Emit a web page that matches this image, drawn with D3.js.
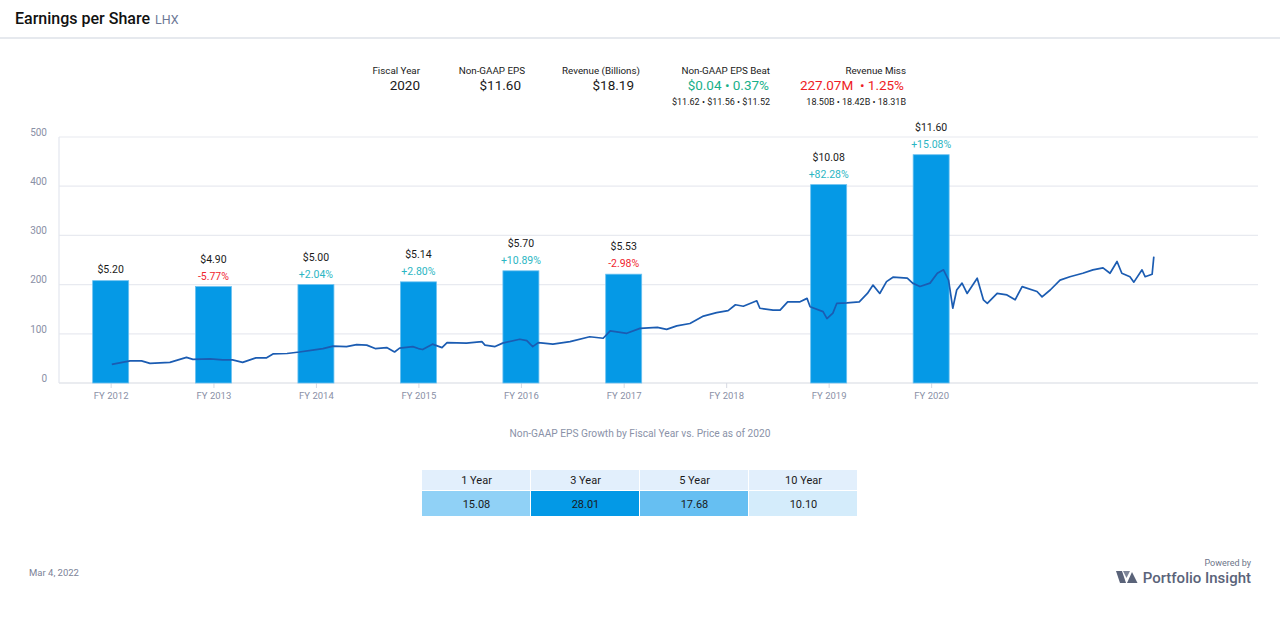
<!DOCTYPE html>
<html>
<head>
<meta charset="utf-8">
<script src="https://cdn.jsdelivr.net/npm/d3@7/dist/d3.min.js"></script>
<style>
  html, body { margin: 0; padding: 0; background: #fff; }
  svg { display: block; font-family: Roboto, "Noto Sans", sans-serif; }
</style>
</head>
<body>
<svg id="chart" width="1280" height="624"></svg>
<script>
// ---------- DATA ----------
const fiscalYears = ["FY 2012","FY 2013","FY 2014","FY 2015","FY 2016","FY 2017","FY 2018","FY 2019","FY 2020"];
const fiscalYearNums = [2012,2013,2014,2015,2016,2017,2018,2019,2020];
const epsValues = [5.20, 4.90, 5.00, 5.14, 5.70, 5.53, null, 10.08, 11.60];
const epsGrowth = [null, -5.77, 2.04, 2.80, 10.89, -2.98, null, 82.28, 15.08];
const yTickValues = [0, 100, 200, 300, 400, 500];

const priceDates = [
  "2012-01-05","2012-03-10","2012-04-20","2012-05-20","2012-07-30","2012-09-27","2012-10-20","2012-12-20",
  "2013-02-03","2013-03-10","2013-04-15","2013-06-01","2013-07-08","2013-08-01","2013-09-20","2013-11-03",
  "2013-12-20","2014-01-26","2014-03-03","2014-04-20","2014-05-26","2014-07-01","2014-07-31","2014-09-10",
  "2014-10-08","2014-10-26","2014-12-12","2015-01-01","2015-01-16","2015-02-20","2015-03-26","2015-04-13",
  "2015-06-21","2015-08-15","2015-08-26","2015-10-01","2015-10-28","2015-12-28","2016-01-22","2016-02-12",
  "2016-03-03","2016-04-24","2016-06-24","2016-09-02","2016-10-20","2016-11-14","2017-01-12","2017-02-28",
  "2017-05-01","2017-06-03","2017-07-09","2017-08-25","2017-10-12","2017-11-28","2018-01-08","2018-02-03",
  "2018-03-03","2018-04-20","2018-05-01","2018-06-17","2018-07-12","2018-08-08","2018-09-21","2018-10-16",
  "2018-10-27","2018-12-12","2018-12-26","2019-01-16","2019-01-30","2019-03-07","2019-04-20","2019-05-19",
  "2019-06-08","2019-07-02","2019-07-26","2019-08-18","2019-10-08","2019-10-27","2019-11-22","2019-12-28",
  "2020-01-23","2020-02-14","2020-03-03","2020-03-18","2020-04-01","2020-04-20","2020-05-08","2020-06-13",
  "2020-07-05","2020-07-19","2020-08-23","2020-09-27","2020-10-26","2020-11-20","2021-01-12","2021-01-30",
  "2021-02-28","2021-04-04","2021-05-09","2021-06-24","2021-07-30","2021-09-04","2021-09-29","2021-10-24",
  "2021-11-10","2021-12-09","2021-12-23","2022-01-21","2022-02-01","2022-02-26","2022-03-04"
];
const priceValues = [
  38, 45, 45, 40, 42, 52, 48, 49,
  47, 47, 42, 51, 51, 59, 60, 63,
  67, 70, 75, 74, 78, 77, 70, 72,
  63, 71, 74, 70, 68, 79, 72, 82,
  81, 84, 77, 74, 81, 89, 86, 74,
  82, 79, 84, 94, 91, 106, 101, 111,
  113, 109, 116, 121, 136, 143, 147, 159,
  156, 167, 152, 148, 148, 165, 165, 172,
  155, 145, 131, 142, 162, 163, 165, 182,
  199, 182, 206, 215, 213, 203, 196, 203,
  223, 230, 209, 152, 189, 203, 182, 213,
  169, 162, 182, 179, 169, 196, 186, 175,
  189, 209, 216, 223, 230, 234, 223, 247,
  223, 216, 205, 230, 216, 221, 257
];

const statLabels = ["Fiscal Year", "Non-GAAP EPS", "Revenue (Billions)", "Non-GAAP EPS Beat", "Revenue Miss"];
const statValues = ["2020", "$11.60", "$18.19", "$0.04 \u2022 0.37%", "227.07M  \u2022 1.25%"];
const statSubs = ["", "", "", "$11.62 \u2022 $11.56 \u2022 $11.52", "18.50B \u2022 18.42B \u2022 18.31B"];

const growthPeriods = ["1 Year", "3 Year", "5 Year", "10 Year"];
const growthValues = [15.08, 28.01, 17.68, 10.10];

// ---------- STYLE / LAYOUT ----------
const W = 1280, H = 624;
const plot = { left: 59, right: 1258, top: 137, bottom: 383 };
const labelRight = [420, 525, 640, 770, 906];
const valueRight = [420, 521, 634, 769, 904];
const statColors = ["#1a1a1a", "#1a1a1a", "#1a1a1a", "#19b08a", "#ee1c25"];
const cellFills = ["#90d1f6", "#0399e6", "#66bff2", "#d4ecfb"];

const svg = d3.select("#chart");
svg.append("rect").attr("width", W).attr("height", H).attr("fill", "#fff");

// Title
const title = svg.append("text").attr("x", 15).attr("y", 24)
  .attr("font-size", 16).attr("font-weight", 500).attr("fill", "#111");
title.append("tspan").text("Earnings per Share");
title.append("tspan").attr("dx", 5).attr("font-size", 12.5).attr("font-weight", 400).attr("fill", "#6d7896").text("LHX");
svg.append("rect").attr("x", 0).attr("y", 37).attr("width", W).attr("height", 2).attr("fill", "#e6e9ee");

// Stats header
statLabels.forEach((lab, i) => {
  svg.append("text").attr("x", labelRight[i]).attr("y", 74).attr("text-anchor", "end")
    .attr("font-size", 9.8).attr("fill", "#1a1a1a").text(lab);
  svg.append("text").attr("x", valueRight[i]).attr("y", 90).attr("text-anchor", "end")
    .attr("font-size", 13.5).attr("font-weight", 400).attr("fill", statColors[i])
    .attr("xml:space", "preserve").text(statValues[i]);
  if (statSubs[i]) {
    svg.append("text").attr("x", labelRight[i]).attr("y", 105).attr("text-anchor", "end")
      .attr("font-size", 9).attr("fill", "#1a1a1a").text(statSubs[i]);
  }
});

// Scales
const x = d3.scaleTime()
  .domain([new Date(2011, 6, 1), new Date(2023, 2, 10)])
  .range([plot.left, plot.right]);
const y = d3.scaleLinear().domain([0, 500]).range([plot.bottom, plot.top]);
const yEps = d3.scaleLinear().domain([0, 12.5]).range([plot.bottom, plot.top]);

// Gridlines
svg.append("g").selectAll("line").data(yTickValues).join("line")
  .attr("x1", plot.left).attr("x2", plot.right)
  .attr("y1", d => y(d)).attr("y2", d => y(d))
  .attr("stroke", d => d === 0 ? "#d6d9e2" : "#e8eaf0").attr("stroke-width", 1.2);
svg.append("line").attr("x1", plot.left).attr("x2", plot.left)
  .attr("y1", plot.top).attr("y2", plot.bottom).attr("stroke", "#e3e6ee").attr("stroke-width", 1.2);

// Y axis labels
const yAxis = d3.axisLeft(y).tickValues(yTickValues).tickSize(0).tickPadding(0);
const gy = svg.append("g").attr("transform", `translate(47,-5)`).call(yAxis);
gy.select(".domain").remove();
gy.selectAll("text").attr("font-size", 10).attr("fill", "#8a90a6").attr("font-family", "Roboto, sans-serif");

// X axis
const xAxis = d3.axisBottom(x)
  .tickValues(fiscalYearNums.map(yv => new Date(yv, 0, 1)))
  .tickFormat((d, i) => fiscalYears[i]).tickSize(5).tickPadding(4);
const gx = svg.append("g").attr("transform", `translate(0,${plot.bottom})`).call(xAxis);
gx.select(".domain").remove();
gx.selectAll("line").attr("stroke", "#d6d9e2");
gx.selectAll("text").attr("font-size", 9.5).attr("fill", "#8a90a6").attr("font-family", "Roboto, sans-serif");

// Bars
const barData = fiscalYearNums.map((yr, i) => ({ yr, eps: epsValues[i], g: epsGrowth[i] })).filter(d => d.eps != null);
const barW = 36;
svg.append("g").selectAll("rect").data(barData).join("rect")
  .attr("x", d => x(new Date(d.yr, 0, 1)) - barW / 2)
  .attr("width", barW)
  .attr("y", d => yEps(d.eps))
  .attr("height", d => yEps(0) - yEps(d.eps))
  .attr("fill", "#0599e6")
  .attr("stroke", "#6cc1f0").attr("stroke-width", 0.8);

// Bar labels
const lab = svg.append("g");
barData.forEach(d => {
  const cx = x(new Date(d.yr, 0, 1));
  const top = yEps(d.eps);
  const hasG = d.g != null;
  lab.append("text").attr("x", cx).attr("y", top - (hasG ? 24 : 8)).attr("text-anchor", "middle")
    .attr("font-size", 10.5).attr("fill", "#1a1a1a").text("$" + d.eps.toFixed(2));
  if (hasG) {
    lab.append("text").attr("x", cx).attr("y", top - 7).attr("text-anchor", "middle")
      .attr("font-size", 10.5).attr("fill", d.g < 0 ? "#f0262f" : "#2bb6c3")
      .text((d.g > 0 ? "+" : "") + d.g.toFixed(2) + "%");
  }
});

// Price line
const parse = d3.timeParse("%Y-%m-%d");
const priceData = priceDates.map((d, i) => ({ date: parse(d), v: priceValues[i] }));
const line = d3.line().x(d => x(d.date)).y(d => y(d.v));
svg.append("path").datum(priceData).attr("d", line)
  .attr("fill", "none").attr("stroke", "#1b5cb2").attr("stroke-width", 1.7).attr("stroke-linejoin", "round");

// Subtitle
svg.append("text").attr("x", 640).attr("y", 437).attr("text-anchor", "middle")
  .attr("font-size", 10.2).attr("fill", "#8a92a8").text("Non-GAAP EPS Growth by Fiscal Year vs. Price as of 2020");

// Growth table
const tbl = { left: 422, top: 470, colW: 109, headH: 20, bodyH: 26 };
const tg = svg.append("g");
growthPeriods.forEach((p, i) => {
  const cx = tbl.left + i * tbl.colW;
  tg.append("rect").attr("x", cx).attr("y", tbl.top).attr("width", tbl.colW - 1).attr("height", tbl.headH)
    .attr("fill", "#e2effc");
  tg.append("text").attr("x", cx + tbl.colW / 2).attr("y", tbl.top + 14).attr("text-anchor", "middle")
    .attr("font-size", 11).attr("fill", "#1a1a1a").text(p);
  tg.append("rect").attr("x", cx).attr("y", tbl.top + tbl.headH + 1).attr("width", tbl.colW - 1).attr("height", tbl.bodyH - 1)
    .attr("fill", cellFills[i]);
  tg.append("text").attr("x", cx + tbl.colW / 2).attr("y", tbl.top + tbl.headH + 18).attr("text-anchor", "middle")
    .attr("font-size", 11).attr("fill", "#1a1a1a").text(growthValues[i].toFixed(2));
});

// Footer
svg.append("text").attr("x", 29).attr("y", 576).attr("font-size", 9.5).attr("fill", "#7c8397").text("Mar 4, 2022");
svg.append("text").attr("x", 1251).attr("y", 566).attr("text-anchor", "end").attr("font-size", 9).attr("fill", "#6d7589").text("Powered by");
svg.append("text").attr("x", 1251).attr("y", 583).attr("text-anchor", "end").attr("font-size", 15).attr("font-weight", 500).attr("fill", "#5a6379").text("Portfolio Insight");
const logo = svg.append("g").attr("fill", "#5a6379");
logo.append("path").attr("d", "M1116,571 L1122,571 L1126,583 L1120,583 Z");
logo.append("path").attr("d", "M1123,571 L1130,571 L1126.5,578 Z").attr("fill", "#7d8598");
logo.append("path").attr("d", "M1127,583 L1132,572 L1137.5,583 Z");
</script>
</body>
</html>
